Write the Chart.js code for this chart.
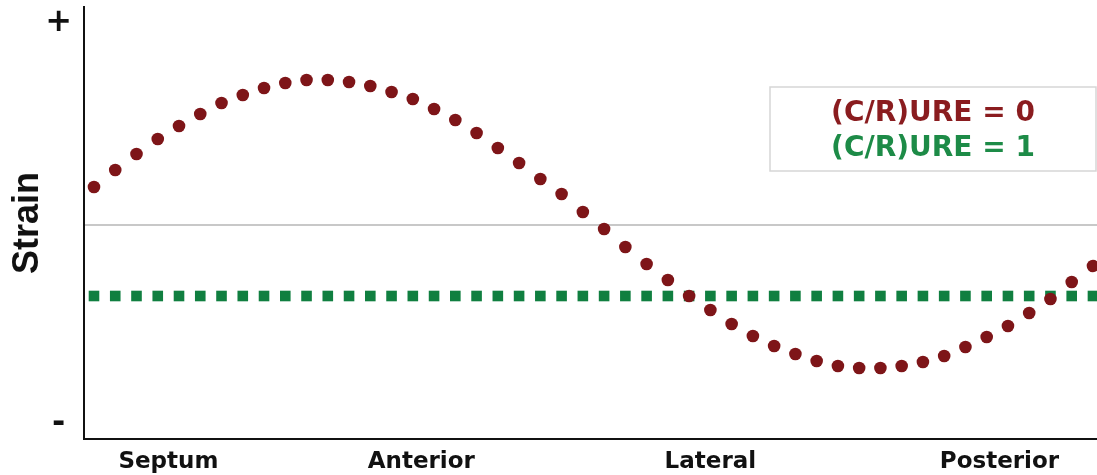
<!DOCTYPE html>
<html>
<head>
<meta charset="utf-8">
<script src="https://cdn.jsdelivr.net/npm/chart.js@4.4.1/dist/chart.umd.min.js"></script>
<style>
  html, body { margin: 0; padding: 0; background: #fff; }
</style>
</head>
<body>
<canvas id="strainChart" width="1097" height="475"></canvas>
<script>
// strain sampled at 48 points around the ring, (C/R)URE = 0
const ureZero = [
    0.38, 0.55, 0.71, 0.86, 0.99, 1.11, 1.22, 1.30, 1.37, 1.42, 1.45, 1.45,
    1.43, 1.39, 1.33, 1.26, 1.16, 1.05, 0.92, 0.77, 0.62, 0.46, 0.31, 0.13,
    -0.04, -0.22, -0.39, -0.55, -0.71, -0.85, -0.99, -1.11, -1.21, -1.29, -1.36, -1.41,
    -1.43, -1.43, -1.41, -1.37, -1.31, -1.22, -1.12, -1.01, -0.88, -0.74, -0.57, -0.41
];
// uniform strain, (C/R)URE = 1
const ureOneLevel = -0.71;

const seriesLabels = ['(C/R)URE = 0', '(C/R)URE = 1'];
const segmentNames = ['Septum', 'Anterior', 'Lateral', 'Posterior'];
const segmentCenters = [3.5, 15.4, 29, 42.6];
const strainTicks = [-1.99, 0, 2.02];
const strainTickLabels = ['-', '', '+'];

const RED = '#7e1518';
const GREEN = '#107f40';

const ureZeroPoints = ureZero.map((v, i) => ({ x: i, y: v }));
const ureOnePoints = ureZero.map((v, i) => ({ x: i, y: ureOneLevel }));

// boxed text key in the upper right of the plot
const legendBox = {
    id: 'legendBox',
    afterDatasetsDraw(chart) {
        const ctx = chart.ctx;
        const area = chart.chartArea;
        const w = 326, h = 84;
        const x = area.right - w - 1;
        const y = area.top + 80;
        ctx.save();
        ctx.fillStyle = '#fff';
        ctx.fillRect(x, y, w, h);
        ctx.strokeStyle = '#d6d6d6';
        ctx.lineWidth = 1.5;
        ctx.strokeRect(x, y, w, h);
        ctx.font = 'bold 28px "DejaVu Sans"';
        ctx.textAlign = 'center';
        ctx.textBaseline = 'middle';
        chart.data.datasets.forEach((ds, i) => {
            ctx.fillStyle = ds.textColor;
            ctx.fillText(ds.label, x + w / 2, y + 27 + i * 35);
        });
        ctx.restore();
    }
};

new Chart(document.getElementById('strainChart'), {
    type: 'scatter',
    data: {
        datasets: [
            {
                label: seriesLabels[0],
                data: ureZeroPoints,
                backgroundColor: RED,
                borderWidth: 0,
                pointRadius: 6.3,
                pointHoverRadius: 6.3,
                textColor: '#8a1c1f'
            },
            {
                label: seriesLabels[1],
                data: ureOnePoints,
                backgroundColor: GREEN,
                borderWidth: 0,
                pointStyle: 'rect',
                pointRadius: 7.5,
                pointHoverRadius: 7.5,
                textColor: '#1d8b47'
            }
        ]
    },
    options: {
        responsive: false,
        animation: false,
        events: [],
        devicePixelRatio: 1,
        layout: {
            autoPadding: false,
            padding: { top: 7, right: 0, bottom: 0, left: 0 }
        },
        plugins: {
            legend: { display: false },
            tooltip: { enabled: false }
        },
        scales: {
            x: {
                type: 'linear',
                min: -0.47,
                max: 47.19,
                grid: { display: false, drawTicks: false },
                border: { display: true, color: '#111', width: 2 },
                afterBuildTicks: scale => {
                    scale.ticks = segmentCenters.map(v => ({ value: v }));
                },
                afterFit: scale => {
                    scale.height = 36;
                    scale.paddingLeft = 0;
                    scale.paddingRight = 0;
                },
                ticks: {
                    autoSkip: false,
                    maxRotation: 0,
                    padding: 9,
                    color: '#111',
                    font: { family: 'DejaVu Sans', weight: 'bold', size: 23 },
                    callback: (value, index) => segmentNames[index]
                }
            },
            y: {
                min: -2.14,
                max: 2.18,
                grid: {
                    drawTicks: false,
                    lineWidth: 2,
                    color: c => (c.tick && c.tick.value === 0) ? '#c8c8c8' : 'rgba(0,0,0,0)'
                },
                border: { display: true, color: '#111', width: 2 },
                afterBuildTicks: scale => {
                    scale.ticks = strainTicks.map(v => ({ value: v }));
                },
                afterFit: scale => {
                    scale.width = 84;
                    scale.paddingTop = 0;
                    scale.paddingBottom = 0;
                },
                title: {
                    display: true,
                    text: 'Strain',
                    color: '#111',
                    font: { family: 'Liberation Sans', weight: 'bold', size: 36 },
                    padding: { top: 6, bottom: 0 }
                },
                ticks: {
                    crossAlign: 'center',
                    padding: 12,
                    color: '#111',
                    font: { family: 'DejaVu Sans', weight: 'bold', size: 32 },
                    callback: (value, index) => strainTickLabels[index]
                }
            }
        }
    },
    plugins: [legendBox]
});
</script>
</body>
</html>
